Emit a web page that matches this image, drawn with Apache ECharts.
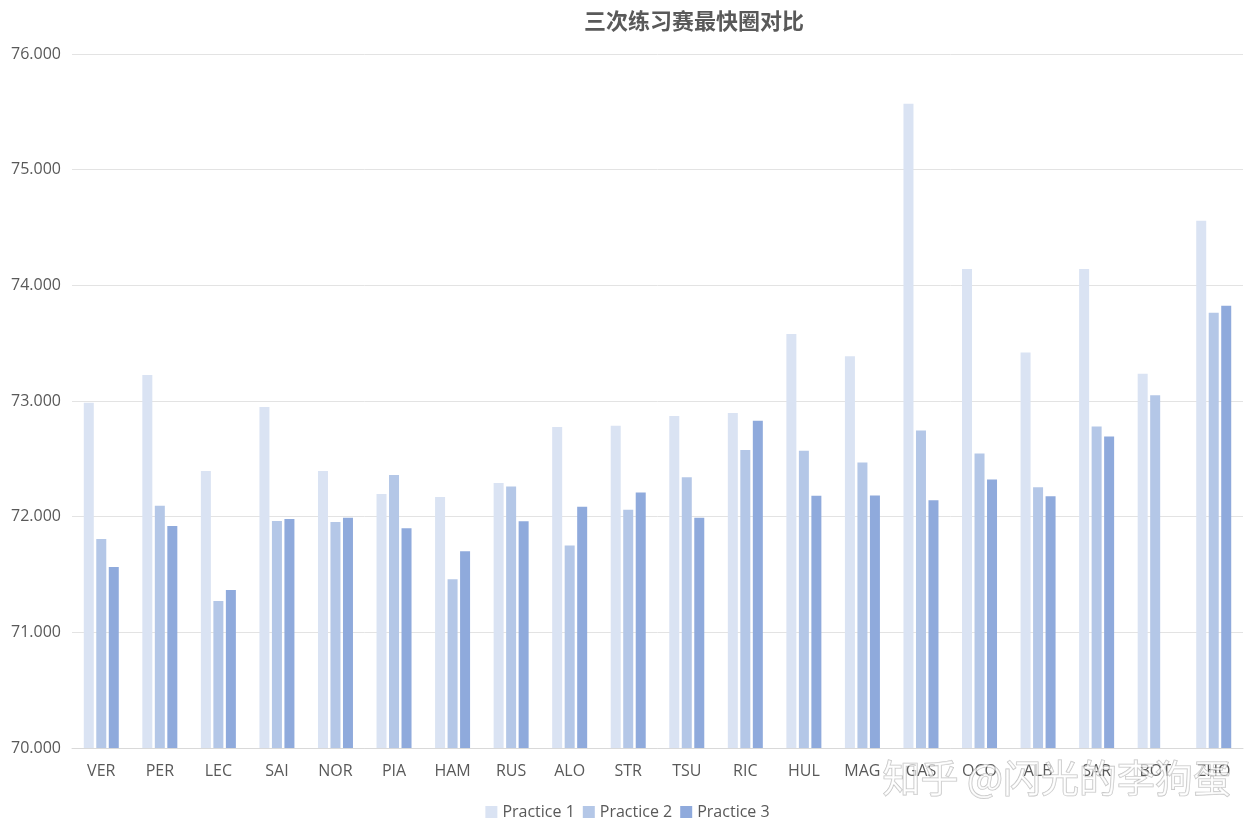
<!DOCTYPE html>
<html>
<head>
<meta charset="utf-8">
<script src="https://cdn.jsdelivr.net/npm/echarts@6/dist/echarts.min.js"></script>
<style>
html,body{margin:0;padding:0;background:#fff;}
#chart{width:1255px;height:831px;}
</style>
</head>
<body>
<div id="chart"></div>
<script>
const drivers = ['VER','PER','LEC','SAI','NOR','PIA','HAM','RUS','ALO','STR','TSU','RIC','HUL','MAG','GAS','OCO','ALB','SAR','BOT','ZHO'];
const practice1 = [72.985,73.225,72.395,72.948,72.395,72.196,72.170,72.290,72.775,72.785,72.870,72.896,73.580,73.386,75.569,74.142,73.420,74.142,73.236,74.558];
const practice2 = [71.807,72.095,71.270,71.962,71.954,72.360,71.460,72.260,71.750,72.060,72.340,72.576,72.570,72.468,72.745,72.547,72.255,72.779,73.049,73.764];
const practice3 = [71.565,71.920,71.366,71.980,71.990,71.900,71.700,71.960,72.085,72.210,71.990,72.830,72.180,72.184,72.142,72.322,72.176,72.693,null,73.824];
const seriesNames = ['Practice 1','Practice 2','Practice 3'];
const yTicks = {min:70, max:76, interval:1};

const colors = ['#dae3f3','#b4c7e7','#8faadc'];
const chart = echarts.init(document.getElementById('chart'));
const dataSets = [practice1, practice2, practice3];
chart.setOption({
  animation:false,
  title:{
    text:'三次练习赛最快圈对比',
    left:579, top:5,
    textStyle:{fontFamily:'Noto Sans CJK SC', fontSize:22, fontWeight:'bold', color:'#595959'}
  },
  legend:{
    data:seriesNames,
    bottom:6, left:'center',
    itemWidth:12, itemHeight:12, itemGap:8,
    icon:'rect',
    textStyle:{fontFamily:'Open Sans', fontSize:16, color:'#595959'}
  },
  grid:{left:72, right:12, top:54, bottom:83, containLabel:false},
  xAxis:{
    type:'category',
    data:drivers,
    axisTick:{show:false},
    axisLine:{lineStyle:{color:'#d9d9d9', width:1}},
    axisLabel:{fontFamily:'Open Sans', fontSize:16, color:'#595959', margin:15}
  },
  yAxis:{
    type:'value',
    min:yTicks.min, max:yTicks.max, interval:yTicks.interval,
    axisLine:{show:false}, axisTick:{show:false},
    splitLine:{lineStyle:{color:'#e3e3e3', width:1}},
    axisLabel:{fontFamily:'Open Sans', fontSize:16, color:'#595959', margin:11,
      formatter:v=>v.toFixed(3)}
  },
  series: seriesNames.map((n,i)=>({
    name:n, type:'bar', data:dataSets[i],
    barWidth:10, barGap:'25%',
    itemStyle:{color:colors[i]}
  })),
  graphic:[{
    type:'text', left:882, top:758, z:100,
    style:{text:'知乎 @闪光的李狗蛋', fontFamily:'Noto Sans CJK SC', fontSize:38,
      fill:'rgba(255,255,255,0.65)', stroke:'rgba(140,140,140,0.55)', lineWidth:1.2}
  }]
});
</script>
</body>
</html>
